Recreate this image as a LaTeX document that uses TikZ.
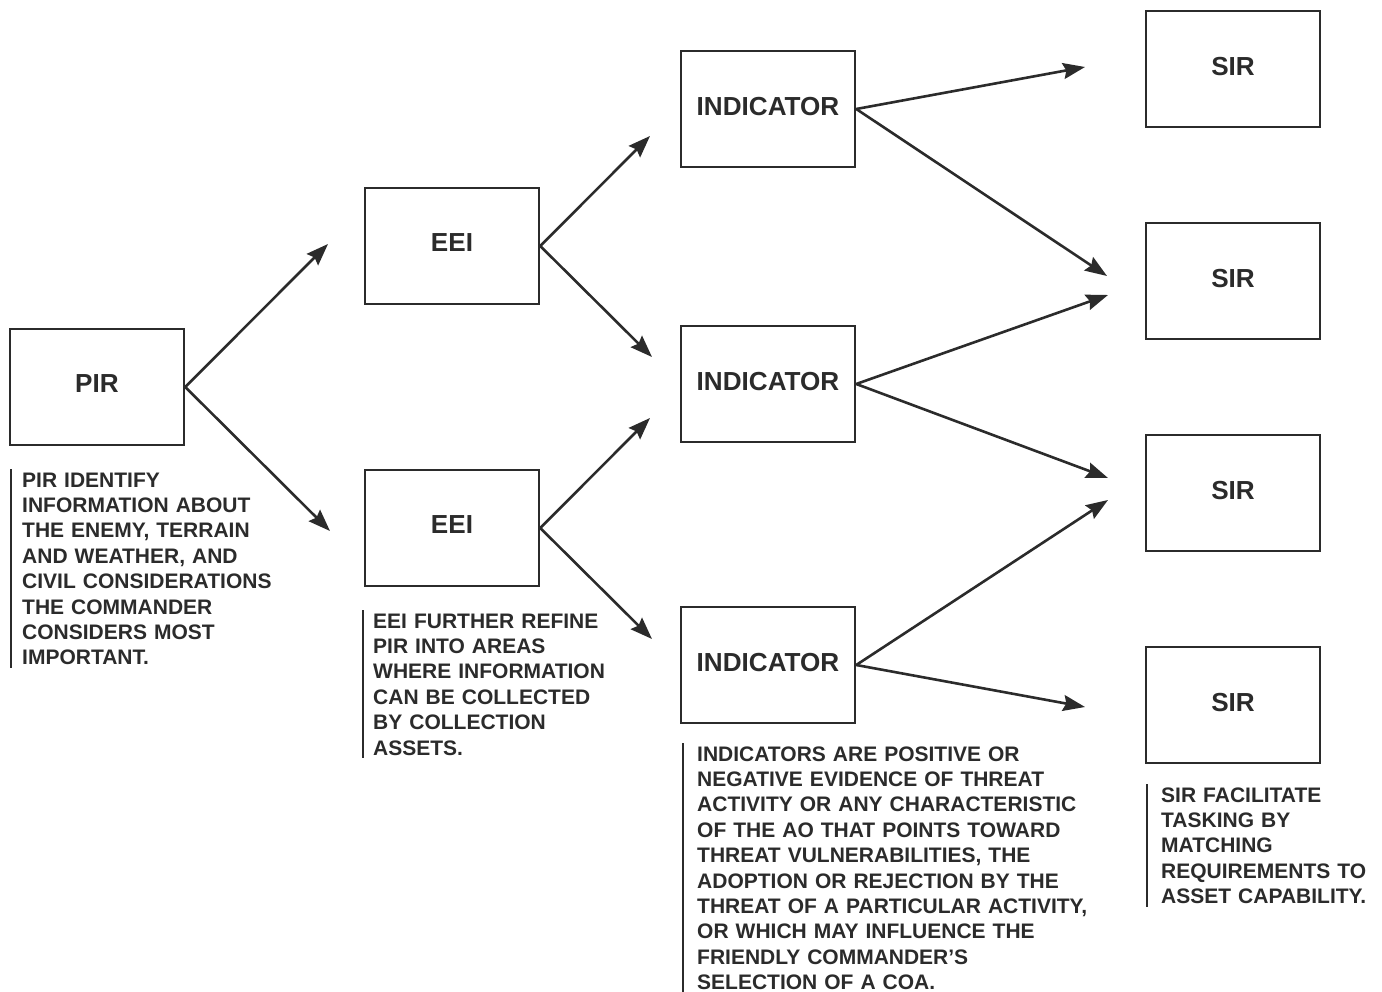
\documentclass[tikz,border=0pt]{standalone}
\usepackage{fontspec}
\setmainfont{Liberation Sans}
\usetikzlibrary{arrows.meta}
\definecolor{ink}{HTML}{2B2B2B}
\tikzset{
  box/.style={draw=ink, line width=2.5pt, minimum width=174pt, minimum height=116pt,
    inner sep=0pt, text=ink, text depth=6pt,
    font=\fontsize{26.1}{30}\selectfont\bfseries},
  flow/.style={draw=ink, line width=2.6pt, -{Stealth[length=22pt,width=16pt,inset=3pt]}},
  note/.style={anchor=base west, align=left, text width=430pt, inner sep=0pt, text=ink,
    font=\fontsize{21}{25.4}\selectfont\bfseries},
  notebar/.style={draw=ink, line width=2pt}
}
\begin{document}
\begin{tikzpicture}[x=1pt,y=-1pt]
\useasboundingbox (0,0) rectangle (1382,992);

% boxes
\node[box] (pir)  at (97,387)  {PIR};
\node[box] (eeiA) at (452,246) {EEI};
\node[box] (eeiB) at (452,528) {EEI};
\node[box] (indA) at (768,109) {INDICATOR};
\node[box] (indB) at (768,384) {INDICATOR};
\node[box] (indC) at (768,665) {INDICATOR};
\node[box] (sirA) at (1233,69)  {SIR};
\node[box] (sirB) at (1233,281) {SIR};
\node[box] (sirC) at (1233,493) {SIR};
\node[box] (sirD) at (1233,705) {SIR};

% arrow tips (free ends)
\coordinate (pirU) at (328,244);
\coordinate (pirD) at (330,531);
\coordinate (eAU) at (650,136);
\coordinate (eAD) at (652,357);
\coordinate (eBU) at (650,418);
\coordinate (eBD) at (652,639);
\coordinate (iAU) at (1085,67);
\coordinate (iAD) at (1107,276);
\coordinate (iBU) at (1108,295);
\coordinate (iBD) at (1108,478);
\coordinate (iCU) at (1108,500);
\coordinate (iCD) at (1085,707);

\draw[flow] (pir.east) -- (pirU);
\draw[flow] (pir.east) -- (pirD);
\draw[flow] (eeiA.east) -- (eAU);
\draw[flow] (eeiA.east) -- (eAD);
\draw[flow] (eeiB.east) -- (eBU);
\draw[flow] (eeiB.east) -- (eBD);
\draw[flow] (indA.east) -- (iAU);
\draw[flow] (indA.east) -- (iAD);
\draw[flow] (indB.east) -- (iBU);
\draw[flow] (indB.east) -- (iBD);
\draw[flow] (indC.east) -- (iCU);
\draw[flow] (indC.east) -- (iCD);

% explanatory notes
\node[note] (nPir) at (22,487) {PIR IDENTIFY\\INFORMATION ABOUT\\THE ENEMY, TERRAIN\\AND WEATHER, AND\\CIVIL CONSIDERATIONS\\THE COMMANDER\\CONSIDERS MOST\\IMPORTANT.};
\node[note] (nEei) at (373,628) {EEI FURTHER REFINE\\PIR INTO AREAS\\WHERE INFORMATION\\CAN BE COLLECTED\\BY COLLECTION\\ASSETS.};
\node[note] (nInd) at (697,761) {INDICATORS ARE POSITIVE OR\\NEGATIVE EVIDENCE OF THREAT\\ACTIVITY OR ANY CHARACTERISTIC\\OF THE AO THAT POINTS TOWARD\\THREAT VULNERABILITIES, THE\\ADOPTION OR REJECTION BY THE\\THREAT OF A PARTICULAR ACTIVITY,\\OR WHICH MAY INFLUENCE THE\\FRIENDLY COMMANDER'S\\SELECTION OF A COA.};
\node[note] (nSir) at (1161,802) {SIR FACILITATE\\TASKING BY\\MATCHING\\REQUIREMENTS TO\\ASSET CAPABILITY.};

\draw[notebar] ([xshift=-11pt,yshift=3pt]nPir.north west) -- ([xshift=-11pt,yshift=-3pt]nPir.south west);
\draw[notebar] ([xshift=-10pt,yshift=3pt]nEei.north west) -- ([xshift=-10pt,yshift=-3pt]nEei.south west);
\draw[notebar] ([xshift=-14pt,yshift=3pt]nInd.north west) -- ([xshift=-14pt,yshift=-6pt]nInd.south west);
\draw[notebar] ([xshift=-14pt,yshift=3pt]nSir.north west) -- ([xshift=-14pt,yshift=-3pt]nSir.south west);
\end{tikzpicture}
\end{document}
